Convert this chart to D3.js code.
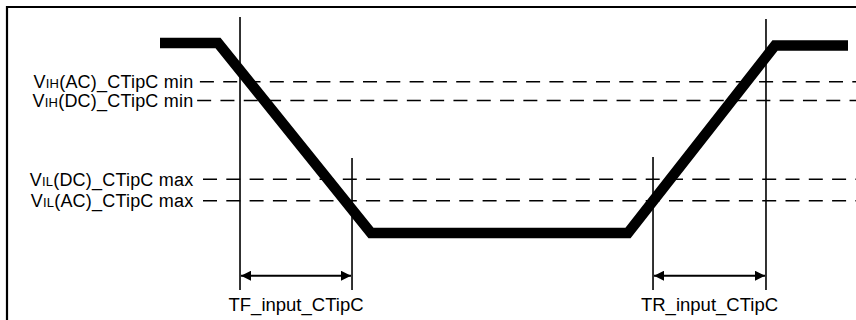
<!DOCTYPE html>
<html>
<head>
<meta charset="utf-8">
<script src="https://cdn.jsdelivr.net/npm/d3@7"></script>
<style>
  html, body { margin: 0; padding: 0; background: #fff; }
  svg { display: block; }
  text { font-family: "Liberation Sans", Arial, sans-serif; fill: #000; }
</style>
</head>
<body>
<svg id="chart" width="856" height="320"></svg>
<script>
// ---- data (time in arbitrary units, voltage normalised: low = 0, high = 1) ----
const waveTimes    = [0, 8.43, 30.67, 68.02, 89.39, 100];
const waveVolts    = [1, 1, 0, 0, 0.987, 0.987];

const levelMain    = ["V", "V", "V", "V"];
const levelSub     = ["IH", "IH", "IL", "IL"];
const levelRest    = ["(AC)_CTipC min", "(DC)_CTipC min", "(DC)_CTipC max", "(AC)_CTipC max"];
const levelVolts   = [0.796, 0.697, 0.283, 0.170];
const dashStartT   = [5.8, 5.4, 6.25, 6.25];

const markerTimes  = [11.63, 27.91, 71.66, 88.08];
const markerTops   = [1.137, 0.395, 0.400, 1.126];
const markerBottom = -0.30;

const spanNames    = ["TF_input_CTipC", "TR_input_CTipC"];
const spanStart    = [11.63, 71.66];
const spanEnd      = [27.91, 88.08];
const spanArrowV   = -0.225;
const spanLabelV   = -0.41;

const dashEndT     = 101.2;
const labelAnchorT = 4.85;

// ---- scales ----
const x = d3.scaleLinear().domain([0, 100]).range([160, 848]);
const y = d3.scaleLinear().domain([0, 1]).range([233, 43]);

const svg = d3.select("#chart");

// frame (left + top edges)
svg.append("path")
  .attr("d", "M7,330 L7,7 L860,7")
  .attr("fill", "none").attr("stroke", "#000").attr("stroke-width", 2.2);

// arrow markers
const defs = svg.append("defs");
["start", "end"].forEach(k => {
  defs.append("marker")
    .attr("id", "arrow-" + k)
    .attr("viewBox", "0 0 10 10")
    .attr("refX", k === "end" ? 10 : 0).attr("refY", 5)
    .attr("markerUnits", "userSpaceOnUse")
    .attr("markerWidth", 12).attr("markerHeight", 10)
    .attr("orient", "auto")
    .append("path")
    .attr("d", k === "end" ? "M0,0 L10,5 L0,10 Z" : "M10,0 L0,5 L10,10 Z")
    .attr("fill", "#000");
});

// dashed threshold lines
svg.append("g").selectAll("line").data(levelVolts).join("line")
  .attr("x1", (d, i) => x(dashStartT[i])).attr("x2", x(dashEndT))
  .attr("y1", d => y(d)).attr("y2", d => y(d))
  .attr("stroke", "#000").attr("stroke-width", 1.5)
  .attr("stroke-dasharray", "14,9.3");

// threshold labels
const lbl = svg.append("g").selectAll("text").data(levelVolts).join("text")
  .attr("x", x(labelAnchorT))
  .attr("y", d => y(d) + 6.3)
  .attr("text-anchor", "end")
  .attr("font-size", 18)
  .attr("letter-spacing", 0.2);
lbl.append("tspan").text((d, i) => levelMain[i]);
lbl.append("tspan").attr("font-size", 13).text((d, i) => levelSub[i]);
lbl.append("tspan").text((d, i) => levelRest[i]);

// vertical timing markers
svg.append("g").selectAll("line").data(markerTimes).join("line")
  .attr("x1", d => x(d)).attr("x2", d => x(d))
  .attr("y1", (d, i) => y(markerTops[i])).attr("y2", y(markerBottom))
  .attr("stroke", "#000").attr("stroke-width", 1.6);

// span arrows
svg.append("g").selectAll("line").data(spanNames).join("line")
  .attr("x1", (d, i) => x(spanStart[i]) + 1).attr("x2", (d, i) => x(spanEnd[i]) - 1)
  .attr("y1", y(spanArrowV)).attr("y2", y(spanArrowV))
  .attr("stroke", "#000").attr("stroke-width", 2)
  .attr("marker-start", "url(#arrow-start)")
  .attr("marker-end", "url(#arrow-end)");

// span labels
svg.append("g").selectAll("text").data(spanNames).join("text")
  .attr("x", (d, i) => (x(spanStart[i]) + x(spanEnd[i])) / 2)
  .attr("y", y(spanLabelV))
  .attr("text-anchor", "middle")
  .attr("font-size", 18.5)
  .text(d => d);

// waveform
const line = d3.line().x(d => x(d[0])).y(d => y(d[1]));
svg.append("path")
  .datum(waveTimes.map((t, i) => [t, waveVolts[i]]))
  .attr("d", line)
  .attr("fill", "none").attr("stroke", "#000")
  .attr("stroke-width", 10.5)
  .attr("stroke-linejoin", "miter")
  .attr("stroke-linecap", "butt");
</script>
</body>
</html>
